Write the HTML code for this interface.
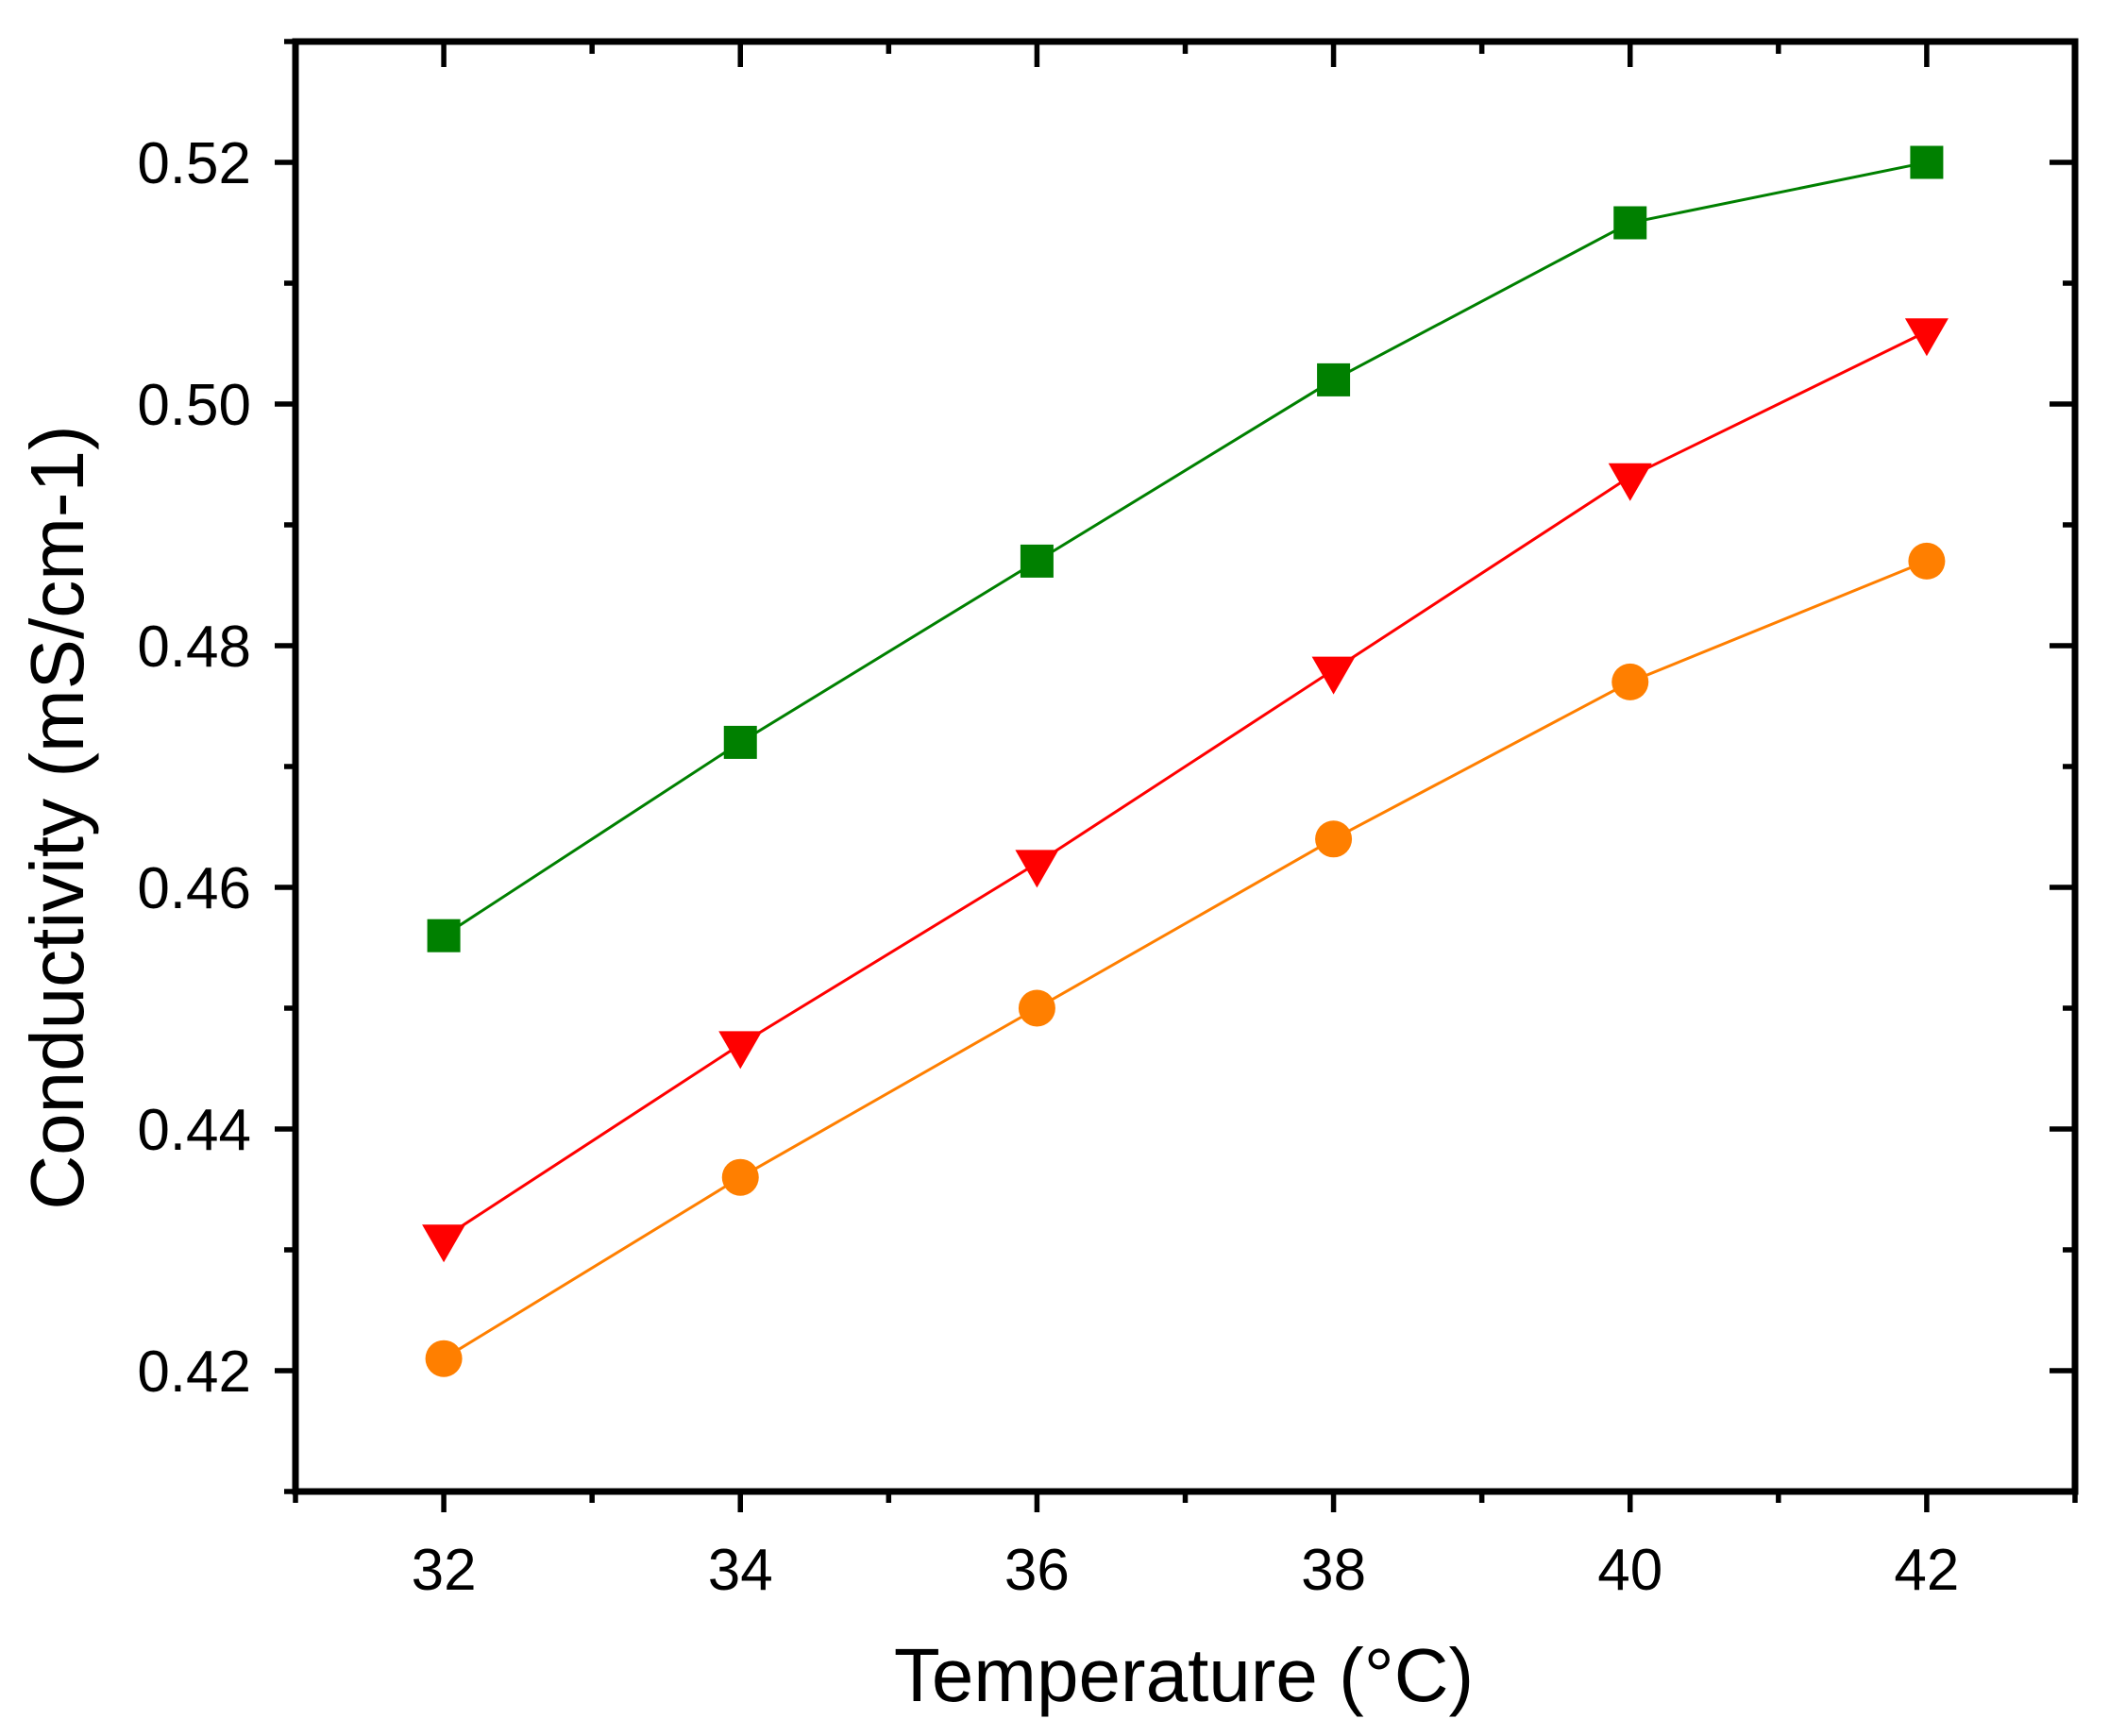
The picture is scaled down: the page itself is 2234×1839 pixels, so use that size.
<!DOCTYPE html>
<html><head><meta charset="utf-8"><style>
html,body{margin:0;padding:0;background:#fff;}
svg{display:block;font-family:"Liberation Sans",Arial,sans-serif;}
</style></head><body>
<svg id="chart" width="2234" height="1839" viewBox="0 0 2234 1839" xmlns="http://www.w3.org/2000/svg">
<g id="axes"></g>
<g id="series"></g>
<text x="1254" y="1802" font-size="80" text-anchor="middle">Temperature (°C)</text>
<text transform="translate(88,866) rotate(-90)" font-size="80" text-anchor="middle">Conductivity (mS/cm-1)</text>
</svg>
<script>
const temps = [32, 34, 36, 38, 40, 42];
const greenVals = [0.456, 0.472, 0.487, 0.502, 0.515, 0.520];
const redVals = [0.431, 0.447, 0.462, 0.478, 0.494, 0.506];
const orangeVals = [0.421, 0.436, 0.450, 0.464, 0.477, 0.487];
const xTicks = [32, 34, 36, 38, 40, 42];
const yTicks = [0.42, 0.44, 0.46, 0.48, 0.50, 0.52];

const X0 = 313, X1 = 2198, Y0 = 1580, Y1 = 44;
const xMin = 31, xMax = 43, yMin = 0.41, yMax = 0.53;
const sx = v => X0 + (v - xMin) / (xMax - xMin) * (X1 - X0);
const sy = v => Y0 - (v - yMin) / (yMax - yMin) * (Y0 - Y1);
const NS = "http://www.w3.org/2000/svg";
const axes = document.getElementById('axes');
const series = document.getElementById('series');
function mk(tag, attrs, parent) {
  const e = document.createElementNS(NS, tag);
  for (const k in attrs) e.setAttribute(k, attrs[k]);
  parent.appendChild(e);
  return e;
}
const frame = mk('rect', {x: X0, y: Y1, width: X1 - X0, height: Y0 - Y1, fill: 'none', stroke: '#000', 'stroke-width': 7}, axes);


for (let v = 31; v <= 43; v++) {
  const major = v % 2 === 0;
  const x = sx(v);
  const t = mk('line', {x1: x, x2: x, y1: Y0, y2: Y0 + (major ? 22 : 12), stroke: '#000', 'stroke-width': 5.5}, axes);
  
  
  const tt = mk('line', {x1: x, x2: x, y1: Y1, y2: Y1 + (major ? 27 : 13), stroke: '#000', 'stroke-width': 5.5}, axes);
  
  
}
xTicks.forEach(v => {
  const l = mk('text', {x: sx(v), y: 1684, 'font-size': 62, 'text-anchor': 'middle'}, axes);
  l.textContent = String(v);
  
  
});
for (let i = 0; i <= 12; i++) {
  const v = yMin + i * 0.01;
  const major = i % 2 === 1;
  const y = sy(v);
  const t = mk('line', {x1: X0, x2: X0 - (major ? 22 : 12), y1: y, y2: y, stroke: '#000', 'stroke-width': 5.5}, axes);
  
  
  const tr = mk('line', {x1: X1, x2: X1 - (major ? 27 : 13), y1: y, y2: y, stroke: '#000', 'stroke-width': 5.5}, axes);
  
  
}
yTicks.forEach(v => {
  const l = mk('text', {x: 266, y: sy(v) + 22, 'font-size': 62, 'text-anchor': 'end'}, axes);
  l.textContent = v.toFixed(2);
  
  
});
function drawSeries(vals, color, shape, name) {
  const pts = vals.map((v, i) => [sx(temps[i]), sy(v)]);
  const pl = mk('polyline', {points: pts.map(p => p.join(',')).join(' '), fill: 'none', stroke: color, 'stroke-width': 3}, series);
  
  
  pts.forEach(([x, y]) => {
    let m;
    if (shape === 'square') m = mk('rect', {x: x - 17.5, y: y - 17.5, width: 35, height: 35, fill: color}, series);
    else if (shape === 'circle') m = mk('circle', {cx: x, cy: y, r: 19.5}, series);
    else m = mk('polygon', {points: `${x-23},${y-14} ${x+23},${y-14} ${x},${y+26}`}, series);
    m.setAttribute('fill', color);
    
    
  });
}
drawSeries(orangeVals, '#ff7f00', 'circle', 'orange-series');
drawSeries(redVals, '#ff0000', 'triangle', 'red-series');
drawSeries(greenVals, '#008000', 'square', 'green-series');
</script>
</body></html>
